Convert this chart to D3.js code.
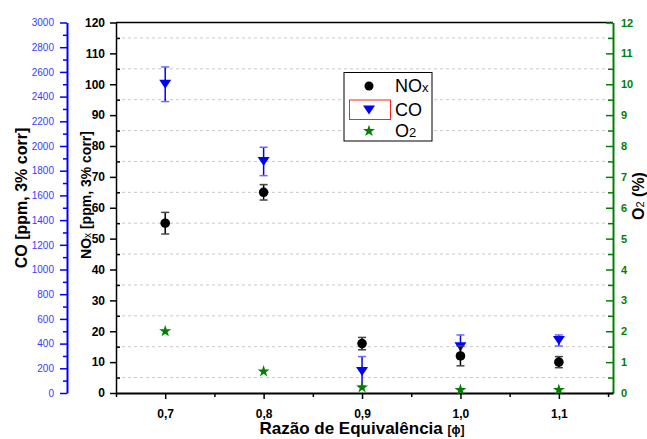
<!DOCTYPE html>
<html>
<head>
<meta charset="utf-8">
<script src="https://cdn.jsdelivr.net/npm/d3@7"></script>
<style>
  body { margin: 0; background: #fff; }
  svg { font-family: "Liberation Sans", Arial, sans-serif; }
</style>
</head>
<body>
<svg width="647" height="439"></svg>
<script>
// Data
var phi = [0.7, 0.8, 0.9, 1.0, 1.1];
var nox = [55, 65, 16, 12, 10];
var noxErr = [3.5, 2.5, 2, 3.2, 1.8];
var co = [2500, 1875, 175, 375, 425];
var coErr = [140, 115, 120, 95, 45];
var o2 = [2.0, 0.7, 0.18, 0.1, 0.1];

var xTicks = [0.7, 0.8, 0.9, 1.0, 1.1];
var xMinor = [0.65, 0.75, 0.85, 0.95, 1.05, 1.15];

var svg = d3.select("svg");

var pLeft = 116, pRight = 613, pTop = 22.5, pBottom = 393;

var x = d3.scaleLinear().domain([0.65, 1.155]).range([pLeft, pRight]);
var yN = d3.scaleLinear().domain([0, 120]).range([pBottom, pTop]);
var yC = d3.scaleLinear().domain([0, 3000]).range([pBottom, pTop]);
var yO = d3.scaleLinear().domain([0, 12]).range([pBottom, pTop]);

// grid lines (dashed, at the half steps)
svg.append("g")
    .selectAll("line")
    .data(d3.range(5, 120, 10))
    .enter()
    .append("line")
    .attr("x1", pLeft)
    .attr("x2", pRight)
    .attr("y1", function(d) { return yN(d); })
    .attr("y2", function(d) { return yN(d); })
    .style("stroke", "#c8c8c8")
    .style("stroke-dasharray", "3,3");

// top border
svg.append("line")
    .attr("x1", pLeft).attr("x2", pRight)
    .attr("y1", pTop).attr("y2", pTop)
    .style("stroke", "#000")
    .style("stroke-width", 1.5);

// CO axis (blue, outer left)
var coAxis = svg.append("g")
    .attr("transform", "translate(67,0)")
    .call(d3.axisLeft(yC).tickValues(d3.range(0, 3001, 200)).tickSize(7).tickPadding(6).tickSizeOuter(0)
        .tickFormat(d3.format("d")));
coAxis.select(".domain").style("stroke", "blue").style("stroke-width", 2);
coAxis.selectAll("line").style("stroke", "blue").style("stroke-width", 1.5);
coAxis.selectAll("text")
    .style("fill", "#3a3aff")
    .style("font-size", "10px");
svg.append("g")
    .attr("transform", "translate(67,0)")
    .call(d3.axisLeft(yC).tickValues(d3.range(100, 3000, 200)).tickSize(4).tickFormat("").tickSizeOuter(0))
    .call(function(g) {
        g.select(".domain").remove();
        g.selectAll("line").style("stroke", "blue").style("stroke-width", 1.5);
    });

// NOx axis (black)
var noxAxis = svg.append("g")
    .attr("transform", "translate(" + pLeft + ",0)")
    .call(d3.axisLeft(yN).tickValues(d3.range(0, 121, 10)).tickSize(6).tickPadding(5).tickSizeOuter(0));
noxAxis.select(".domain").style("stroke-width", 1.5);
noxAxis.selectAll("line").style("stroke-width", 1.5);
noxAxis.selectAll("text")
    .style("font-size", "12px")
    .style("font-weight", "bold");
svg.append("g")
    .attr("transform", "translate(" + pLeft + ",0)")
    .call(d3.axisLeft(yN).tickValues(d3.range(5, 120, 10)).tickSize(-4).tickFormat("").tickSizeOuter(0))
    .call(function(g) {
        g.select(".domain").remove();
        g.selectAll("line").style("stroke-width", 1.5);
    });

// O2 axis (green, right)
var o2Axis = svg.append("g")
    .attr("transform", "translate(" + pRight + ",0)")
    .call(d3.axisRight(yO).tickValues(d3.range(0, 13, 1)).tickSize(-7).tickPadding(8).tickSizeOuter(0));
o2Axis.select(".domain").style("stroke", "#008000").style("stroke-width", 2);
o2Axis.selectAll("line").style("stroke", "#008000").style("stroke-width", 1.5);
o2Axis.selectAll("text")
    .style("fill", "#008000")
    .style("font-size", "11px")
    .style("font-weight", "bold");
svg.append("g")
    .attr("transform", "translate(" + pRight + ",0)")
    .call(d3.axisRight(yO).tickValues(d3.range(0.5, 12, 1)).tickSize(-5).tickFormat("").tickSizeOuter(0))
    .call(function(g) {
        g.select(".domain").remove();
        g.selectAll("line").style("stroke", "#008000").style("stroke-width", 1.5);
    });

// x axis
var xAxis = svg.append("g")
    .attr("transform", "translate(0," + pBottom + ")")
    .call(d3.axisBottom(x).tickValues(xTicks).tickSize(6).tickPadding(10).tickSizeOuter(0)
        .tickFormat(function(d) { return d.toFixed(1).replace(".", ","); }));
xAxis.select(".domain").style("stroke-width", 2);
xAxis.selectAll("line").style("stroke-width", 1.5);
xAxis.selectAll("text")
    .style("font-size", "12px")
    .style("font-weight", "bold");
svg.append("g")
    .attr("transform", "translate(0," + pBottom + ")")
    .call(d3.axisBottom(x).tickValues(xMinor).tickSize(4).tickFormat("").tickSizeOuter(0))
    .call(function(g) {
        g.select(".domain").remove();
        g.selectAll("line").style("stroke-width", 1.5);
    });

// axis titles
svg.append("text")
    .attr("transform", "translate(27,198) rotate(-90)")
    .attr("text-anchor", "middle")
    .style("font-size", "16px")
    .style("font-weight", "bold")
    .text("CO [ppm, 3% corr]");

var noxTitle = svg.append("text")
    .attr("transform", "translate(91,195) rotate(-90)")
    .attr("text-anchor", "middle")
    .style("font-size", "14px")
    .style("font-weight", "bold");
noxTitle.append("tspan").text("NO");
noxTitle.append("tspan").style("font-size", "10px").style("font-weight", "normal").text("x");
noxTitle.append("tspan").text(" [ppm, 3% corr]");

var o2Title = svg.append("text")
    .attr("transform", "translate(644,196) rotate(-90)")
    .attr("text-anchor", "middle")
    .style("font-size", "16px")
    .style("font-weight", "bold");
o2Title.append("tspan").text("O");
o2Title.append("tspan").style("font-size", "11px").style("font-weight", "normal").text("2");
o2Title.append("tspan").text(" (%)");

var xTitle = svg.append("text")
    .attr("x", 362)
    .attr("y", 434)
    .attr("text-anchor", "middle")
    .style("font-size", "17px")
    .style("font-weight", "bold");
xTitle.append("tspan").text("Razão de Equivalência ");
xTitle.append("tspan").style("font-size", "12px").text("[ϕ]");

// symbols
var triDown = "M-6,-4.5L6,-4.5L0,4.5Z";
var star = d3.symbol().type(d3.symbolStar).size(45);

// CO points with error bars
var coG = svg.append("g");
coG.selectAll(".bar")
    .data(phi)
    .enter()
    .append("line")
    .attr("x1", function(d) { return x(d); })
    .attr("x2", function(d) { return x(d); })
    .attr("y1", function(d, i) { return yC(co[i] - coErr[i]); })
    .attr("y2", function(d, i) { return yC(co[i] + coErr[i]); })
    .style("stroke", "blue")
    .style("stroke-width", 1.5);
coG.selectAll(".cap")
    .data(phi.concat(phi))
    .enter()
    .append("line")
    .attr("x1", function(d) { return x(d) - 4; })
    .attr("x2", function(d) { return x(d) + 4; })
    .attr("y1", function(d, i) { var k = i % 5; return yC(i < 5 ? co[k] + coErr[k] : co[k] - coErr[k]); })
    .attr("y2", function(d, i) { var k = i % 5; return yC(i < 5 ? co[k] + coErr[k] : co[k] - coErr[k]); })
    .style("stroke", "#6a6aff")
    .style("stroke-width", 1.5);
coG.selectAll("path")
    .data(phi)
    .enter()
    .append("path")
    .attr("d", triDown)
    .attr("transform", function(d, i) { return "translate(" + x(d) + "," + yC(co[i]) + ")"; })
    .attr("fill", "blue");

// NOx points with error bars
var noxG = svg.append("g");
noxG.selectAll(".bar")
    .data(phi)
    .enter()
    .append("line")
    .attr("x1", function(d) { return x(d); })
    .attr("x2", function(d) { return x(d); })
    .attr("y1", function(d, i) { return yN(nox[i] - noxErr[i]); })
    .attr("y2", function(d, i) { return yN(nox[i] + noxErr[i]); })
    .style("stroke", "#000")
    .style("stroke-width", 1.5);
noxG.selectAll(".cap")
    .data(phi.concat(phi))
    .enter()
    .append("line")
    .attr("x1", function(d) { return x(d) - 4; })
    .attr("x2", function(d) { return x(d) + 4; })
    .attr("y1", function(d, i) { var k = i % 5; return yN(i < 5 ? nox[k] + noxErr[k] : nox[k] - noxErr[k]); })
    .attr("y2", function(d, i) { var k = i % 5; return yN(i < 5 ? nox[k] + noxErr[k] : nox[k] - noxErr[k]); })
    .style("stroke", "#444")
    .style("stroke-width", 1.5);
noxG.selectAll("circle")
    .data(phi)
    .enter()
    .append("circle")
    .attr("cx", function(d) { return x(d); })
    .attr("cy", function(d, i) { return yN(nox[i]); })
    .attr("r", 4.8)
    .attr("fill", "#000");

// O2 points
svg.append("g")
    .selectAll("path")
    .data(phi)
    .enter()
    .append("path")
    .attr("d", star)
    .attr("transform", function(d, i) { return "translate(" + x(d) + "," + yO(o2[i]) + ")"; })
    .attr("fill", "#008000");

// legend
var lg = svg.append("g");
lg.append("rect")
    .attr("x", 344).attr("y", 72.5)
    .attr("width", 88).attr("height", 68.5)
    .attr("fill", "#fff")
    .style("stroke", "#000")
    .style("stroke-width", 1);
lg.append("rect")
    .attr("x", 349.5).attr("y", 100)
    .attr("width", 41).attr("height", 19.5)
    .attr("fill", "none")
    .style("stroke", "#ff2020")
    .style("stroke-width", 1);
lg.append("circle").attr("cx", 369).attr("cy", 86).attr("r", 4.5).attr("fill", "#000");
lg.append("path").attr("d", triDown).attr("transform", "translate(369,110)").attr("fill", "blue");
lg.append("path").attr("d", star).attr("transform", "translate(369,131)").attr("fill", "#008000");

var t1 = lg.append("text").attr("x", 395).attr("y", 92).style("font-size", "18px");
t1.append("tspan").text("NO");
t1.append("tspan").style("font-size", "13px").text("x");
lg.append("text").attr("x", 395).attr("y", 116).style("font-size", "18px").text("CO");
var t3 = lg.append("text").attr("x", 395).attr("y", 137).style("font-size", "18px");
t3.append("tspan").text("O");
t3.append("tspan").style("font-size", "13px").text("2");
</script>
</body>
</html>
